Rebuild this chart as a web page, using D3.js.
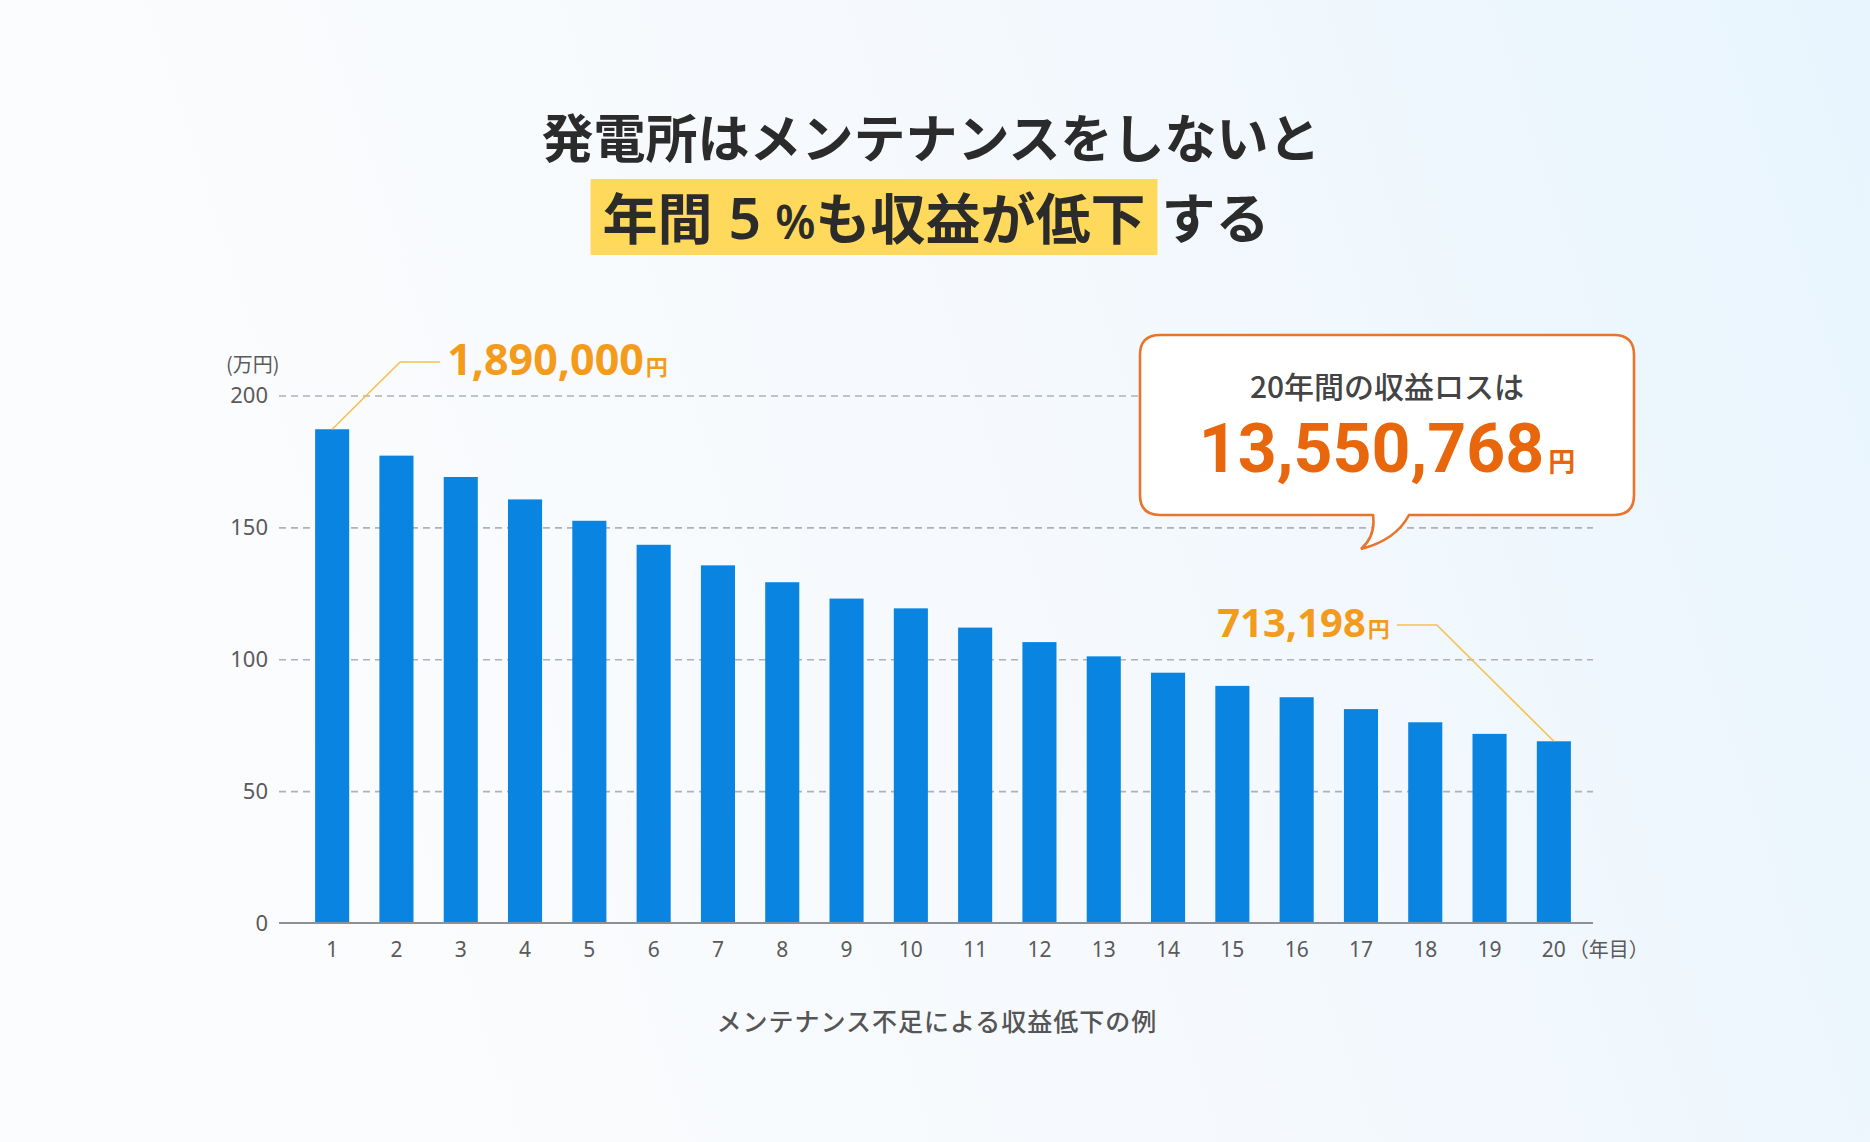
<!DOCTYPE html>
<html>
<head>
<meta charset="utf-8">
<script src="https://cdn.jsdelivr.net/npm/d3@7"></script>
<style>
  html, body { margin: 0; padding: 0; overflow: hidden; }
  svg { display: block; }
  text { font-family: "Noto Sans", "Noto Sans CJK JP", sans-serif; }
  .jp { font-family: "Noto Sans CJK JP", "Noto Sans", sans-serif; }
</style>
</head>
<body>
<svg id="chart" width="1870" height="1142"></svg>
<script>
// ---- data ----
const categories = ["1","2","3","4","5","6","7","8","9","10","11","12","13","14","15","16","17","18","19","20"];
const revenue = [187.2, 177.2, 169.1, 160.6, 152.5, 143.4, 135.6, 129.2, 123.0, 119.3, 112.0, 106.5, 101.1, 94.9, 89.9, 85.6, 81.1, 76.1, 71.7, 68.9];
const yTicks = [0, 50, 100, 150, 200];
const yUnit = "(万円)";
const xUnit = "（年目）";
const firstLabel = "1,890,000";
const lastLabel = "713,198";
const yen = "円";
const calloutTitle = "20年間の収益ロスは";
const calloutValue = "13,550,768";
const titleLine1 = "発電所はメンテナンスをしないと";
const caption = "メンテナンス不足による収益低下の例";

const svg = d3.select("#chart");
const W = 1870, H = 1142;

// background gradient
const defs = svg.append("defs");
const bg = defs.append("linearGradient").attr("id", "bg").attr("x1", "0").attr("x2", "1").attr("y1", "0.2").attr("y2", "0");
bg.append("stop").attr("offset", "0").attr("stop-color", "#fbfcfd");
bg.append("stop").attr("offset", "0.5").attr("stop-color", "#f5f9fd");
bg.append("stop").attr("offset", "1").attr("stop-color", "#e8f5fe");
svg.append("rect").attr("width", W).attr("height", H).attr("fill", "url(#bg)");

// ---- scales ----
const plotLeft = 279, plotRight = 1593;
const x = d3.scaleBand().domain(categories).range([300, 1586]).paddingInner(0.47).paddingOuter(0.235);
const y = d3.scaleLinear().domain([0, 200]).range([923, 395.5]);

// grid lines
const grid = svg.append("g").attr("transform", `translate(${plotLeft},0)`)
  .call(d3.axisLeft(y).tickValues(yTicks.filter(d => d > 0)).tickSize(-(plotRight - plotLeft)).tickFormat(""));
grid.select(".domain").remove();
grid.selectAll(".tick line").attr("stroke", "#adb2b9").attr("stroke-width", 1.6).attr("stroke-dasharray", "7,5");

// y axis labels
const yAx = svg.append("g").attr("transform", `translate(${plotLeft},0)`)
  .call(d3.axisLeft(y).tickValues(yTicks).tickSize(0).tickPadding(11));
yAx.select(".domain").remove();
yAx.selectAll(".tick text").attr("font-size", 22).attr("fill", "#5a5a5a").attr("font-family", "Noto Sans, sans-serif");

svg.append("text").attr("class", "jp").attr("x", 226).attr("y", 372)
  .attr("font-size", 20).attr("fill", "#5a5a5a").text(yUnit);

// bars
svg.append("g").selectAll("rect").data(revenue).join("rect")
  .attr("x", (d, i) => x(categories[i]))
  .attr("width", x.bandwidth())
  .attr("y", d => y(d))
  .attr("height", d => y(0) - y(d))
  .attr("fill", "#0a84e1");

// x axis
const xAx = svg.append("g").attr("transform", `translate(0,${y(0)})`)
  .call(d3.axisBottom(x).tickSize(0).tickPadding(19));
xAx.select(".domain").remove();
xAx.selectAll(".tick text").attr("font-size", 21).attr("fill", "#5a5a5a").attr("font-family", "Noto Sans, sans-serif");
svg.append("line").attr("x1", plotLeft).attr("x2", plotRight).attr("y1", y(0)).attr("y2", y(0))
  .attr("stroke", "#8d9096").attr("stroke-width", 2.2);

const lastX = x(categories[19]) + x.bandwidth() / 2;
svg.append("text").attr("class", "jp").attr("x", lastX + 15).attr("y", y(0) + 34)
  .attr("font-size", 20).attr("fill", "#5a5a5a").text(xUnit);

// annotation lines
const firstX = x(categories[0]) + x.bandwidth() / 2;
const ann1 = [[firstX, y(revenue[0])], [firstX + 68, 362], [firstX + 108, 362]];
const ann2 = [[lastX, y(revenue[19])], [lastX - 117, 625], [lastX - 157, 625]];
const line = d3.line();
svg.append("path").attr("d", line(ann1)).attr("fill", "none").attr("stroke", "#f3c24f").attr("stroke-width", 1.6);
svg.append("path").attr("d", line(ann2)).attr("fill", "none").attr("stroke", "#f3c24f").attr("stroke-width", 1.6);

const orange = "#f39c1c";
const t1 = svg.append("text").attr("x", firstX + 115).attr("y", 375).attr("fill", orange).attr("font-weight", 700);
t1.append("tspan").attr("font-size", 43).text(firstLabel);
t1.append("tspan").attr("class", "jp").attr("font-size", 22).attr("dx", 2).text(yen);

const t2 = svg.append("text").attr("x", lastX - 164).attr("y", 637).attr("fill", orange).attr("font-weight", 700).attr("text-anchor", "end");
t2.append("tspan").attr("font-size", 40).text(lastLabel);
t2.append("tspan").attr("class", "jp").attr("font-size", 22).attr("dx", 2).text(yen);

// callout
const bx0 = 1140, bx1 = 1634, by0 = 335, by1 = 515, r = 20;
const cp = d3.path();
cp.moveTo(bx0 + r, by0);
cp.lineTo(bx1 - r, by0);
cp.quadraticCurveTo(bx1, by0, bx1, by0 + r);
cp.lineTo(bx1, by1 - r);
cp.quadraticCurveTo(bx1, by1, bx1 - r, by1);
cp.lineTo(1409, by1);
cp.quadraticCurveTo(1396, 540, 1361, 549);
cp.quadraticCurveTo(1376, 536, 1373, by1);
cp.lineTo(bx0 + r, by1);
cp.quadraticCurveTo(bx0, by1, bx0, by1 - r);
cp.lineTo(bx0, by0 + r);
cp.quadraticCurveTo(bx0, by0, bx0 + r, by0);
cp.closePath();
svg.append("path").attr("d", cp.toString()).attr("fill", "#ffffff").attr("stroke", "#e9742b").attr("stroke-width", 2.6);

svg.append("text").attr("class", "jp").attr("x", 1387).attr("y", 398).attr("text-anchor", "middle")
  .attr("font-size", 30).attr("font-weight", 500).attr("fill", "#444").text(calloutTitle);
const cv = svg.append("text").attr("x", 1387).attr("y", 472).attr("text-anchor", "middle")
  .attr("fill", "#e8660c").attr("font-weight", 700);
cv.append("tspan").attr("font-size", 68).attr("font-family", "Roboto, sans-serif").text(calloutValue);
cv.append("tspan").attr("class", "jp").attr("font-size", 27).attr("dx", 4).text(yen);

// title
svg.append("text").attr("class", "jp").attr("x", 931).attr("y", 158).attr("text-anchor", "middle")
  .attr("font-size", 52).attr("font-weight", 700).attr("fill", "#2b2b2b").text(titleLine1);

// title line 2 with highlight
const g2 = svg.append("g");
const hlRect = g2.append("rect").attr("fill", "#ffd95c");
const hl = g2.append("text").attr("class", "jp").attr("x", 0).attr("y", 239).attr("font-weight", 700).attr("fill", "#2b2b2b");
hl.append("tspan").attr("font-size", 55).text("年間");
hl.append("tspan").attr("font-size", 57).attr("dx", 16).attr("font-weight", 600).attr("font-family", "Noto Sans, sans-serif").text("5");
hl.append("tspan").attr("font-size", 46).attr("dx", 14).attr("font-weight", 600).attr("font-family", "Noto Sans, sans-serif").text("%");
hl.append("tspan").attr("font-size", 55).text("も収益が低下");
const suru = g2.append("text").attr("class", "jp").attr("x", 0).attr("y", 239).attr("font-size", 54).attr("font-weight", 700).attr("fill", "#2b2b2b").text("する");
const wA = hl.node().getBBox().width;
const wB = suru.node().getBBox().width;
const padL = 12, padR = 12, gap = 4;
const total = padL + wA + padR + gap + wB;
const startX = 930 - total / 2;
hlRect.attr("x", startX).attr("y", 179).attr("width", padL + wA + padR).attr("height", 76);
hl.attr("x", startX + padL);
suru.attr("x", startX + padL + wA + padR + gap);

// caption
svg.append("text").attr("class", "jp").attr("x", 937).attr("y", 1031).attr("text-anchor", "middle")
  .attr("font-size", 25).attr("letter-spacing", 1).attr("font-weight", 500).attr("fill", "#555").text(caption);
</script>
</body>
</html>
